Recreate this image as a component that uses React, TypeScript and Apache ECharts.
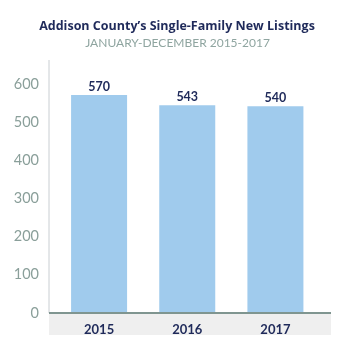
import React, { useEffect, useRef } from "react";
import * as echarts from "echarts";

const categories = ["2015", "2016", "2017"];
const listings = [570, 543, 540];
const yTicks = [0, 100, 200, 300, 400, 500, 600];

export default function App() {
  const ref = useRef<HTMLDivElement>(null);
  useEffect(() => {
    if (!ref.current) return;
    const chart = echarts.init(ref.current, null, { renderer: "svg" });
    chart.setOption({
      animation: false,
      title: [
        {
          text: "Addison County\u2019s Single-Family New Listings",
          left: 172,
          textAlign: "center",
          top: 14,
          textStyle: { fontFamily: "Open Sans", fontWeight: "bold", fontSize: 12.5, color: "#1f2a5a" },
        },
        {
          text: "JANUARY-DECEMBER 2015-2017",
          left: 172.5,
          textAlign: "center",
          top: 31,
          textStyle: { fontFamily: "Lato", fontWeight: "normal", fontSize: 12, color: "#8fa5a0" },
        },
      ],
      graphic: [
        { type: "rect", shape: { x: 49, y: 314, width: 282, height: 21 }, style: { fill: "#efefef" }, z: 0 },
        { type: "line", shape: { x1: 49, y1: 60, x2: 49, y2: 313 }, style: { stroke: "#c9ced2", lineWidth: 1 }, z: 5 },
        { type: "line", shape: { x1: 49, y1: 313, x2: 331, y2: 313 }, style: { stroke: "#7f9590", lineWidth: 2 }, z: 5 },
      ],
      grid: { left: 55, right: 37.5, top: 83.5, bottom: 41, containLabel: false },
      xAxis: {
        type: "category",
        data: categories,
        axisLine: { show: false },
        axisTick: { show: false },
        axisLabel: { margin: 10, fontFamily: "Lato", fontWeight: "bold", fontSize: 13, color: "#1f2a5a" },
      },
      yAxis: {
        type: "value",
        min: yTicks[0],
        max: yTicks[yTicks.length - 1],
        interval: 100,
        splitLine: { show: false },
        axisLine: { show: false },
        axisTick: { show: false },
        axisLabel: { margin: 16, padding: [0, 0, 5, 0], fontFamily: "Lato", fontSize: 14.5, color: "#8a9f9a" },
      },
      series: [
        {
          type: "bar",
          data: listings,
          barWidth: 56,
          itemStyle: { color: "#a0cbed" },
          label: {
            show: true,
            position: "top",
            distance: 2,
            fontFamily: "Lato",
            fontWeight: "bold",
            fontSize: 12.5,
            color: "#1f2a5a",
          },
        },
      ],
    });
    return () => chart.dispose();
  }, []);
  return <div ref={ref} style={{ position: "fixed", left: 0, top: 0, width: 357, height: 353 }} />;
}
